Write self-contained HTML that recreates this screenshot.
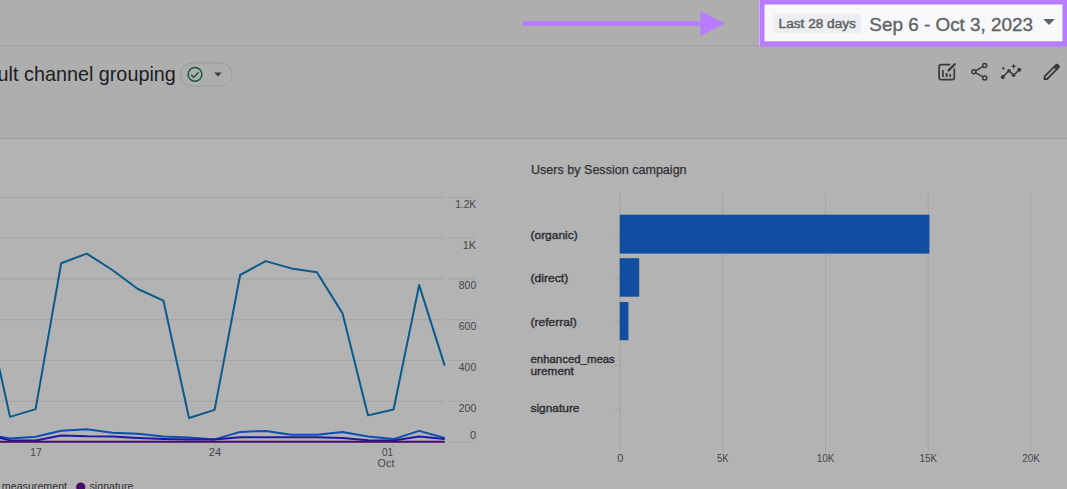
<!DOCTYPE html>
<html><head><meta charset="utf-8">
<style>
*{margin:0;padding:0;box-sizing:border-box}
html,body{width:1067px;height:489px;overflow:hidden;background:#aeaeaf;font-family:"Liberation Sans",sans-serif}
#card{position:absolute;left:0;top:139px;width:1067px;height:350px;background:#b3b3b3}
.hl{position:absolute;left:0;width:1067px;height:1px;background:#9c9d9f}
svg{position:absolute;left:0;top:0}
text{font-family:"Liberation Sans",sans-serif}
</style></head><body>
<div class="hl" style="top:45px"></div>
<div class="hl" style="top:138px"></div>
<div id="card"></div>

<svg width="1067" height="489" viewBox="0 0 1067 489">
  <!-- arrow -->
  <rect x="523" y="21" width="180" height="5" fill="#b77cff"/>
  <polygon points="700.5,11 725,23.5 700.5,36" fill="#b77cff"/>

  <!-- date box -->
  <rect x="759" y="0" width="308" height="46.5" fill="#b77cff"/>
  <rect x="764.5" y="4.5" width="298" height="36.8" fill="#f7f8f9"/>
  <rect x="759" y="0" width="0.7" height="46" fill="#d9c2ff"/>
  <rect x="773.6" y="13.7" width="87.5" height="19.7" rx="2" fill="#eceef0"/>
  <text x="778.6" y="27.8" font-size="12.85" fill="#5c5f63" stroke="#5c5f63" stroke-width="0.45" textLength="77.3" lengthAdjust="spacingAndGlyphs">Last 28 days</text>
  <text x="869.3" y="30.5" font-size="18.9" fill="#5f6266" stroke="#5f6266" stroke-width="0.35">Sep 6 - Oct 3, 2023</text>
  <polygon points="1043.2,19 1054.8,19 1049,25" fill="#5f6266"/>

  <!-- title -->
  <text x="-2.4" y="80.5" font-size="19.8" fill="#1c1d1f">ult channel grouping</text>
  <rect x="180.3" y="63" width="51.8" height="23" rx="11.5" fill="none" stroke="#9a9c9e" stroke-width="1"/>
  <circle cx="195" cy="74.3" r="6.9" fill="none" stroke="#135a37" stroke-width="1.5"/>
  <polyline points="191.2,74.9 193.7,77.3 198.6,72.3" fill="none" stroke="#135a37" stroke-width="1.5"/>
  <polygon points="214.2,72.6 221.7,72.6 217.95,76.6" fill="#3a3a3c"/>

  <!-- top-right icons -->
  <g fill="none" stroke="#38393b">
  <path d="M950.2,64.6 H941.2 Q939.1,64.6 939.1,66.7 V77.6 Q939.1,79.7 941.2,79.7 H952.2 Q954.3,79.7 954.3,77.6 V68.6" stroke-width="1.7"/>
  <line x1="948.6" y1="70.4" x2="954.8" y2="64.3" stroke-width="2.3" stroke-linecap="round"/>
  <rect x="942.1" y="70" width="1.7" height="7" fill="#38393b" stroke="none"/>
  <rect x="945.7" y="73" width="1.8" height="4" fill="#38393b" stroke="none"/>
  <rect x="949.3" y="74" width="1.7" height="3" fill="#38393b" stroke="none"/>

  <circle cx="984.7" cy="65.4" r="2" stroke-width="1.5"/>
  <circle cx="973.9" cy="71.8" r="2" stroke-width="1.5"/>
  <circle cx="984.7" cy="77.9" r="2" stroke-width="1.5"/>
  <line x1="975.6" y1="70.8" x2="983" y2="66.4" stroke-width="1.5"/>
  <line x1="975.6" y1="72.8" x2="983" y2="76.9" stroke-width="1.5"/>

  <polyline points="1002.8,77.1 1009,70.7 1013.6,75.3 1019.2,69.8" stroke-width="1.5"/>
  </g>
  <g fill="#38393b">
  <circle cx="1002.8" cy="77.1" r="2.1"/>
  <circle cx="1009" cy="70.7" r="1.8"/>
  <circle cx="1013.6" cy="75.3" r="1.8"/>
  <circle cx="1019.2" cy="69.8" r="2"/>
  <path d="M1003.4,66.6 L1004,67.8 L1005.2,68.4 L1004,69 L1003.4,70.2 L1002.8,69 L1001.6,68.4 L1002.8,67.8Z"/>
  <path d="M1013.7,63.4 L1014.5,65.5 L1016.6,66.3 L1014.5,67.1 L1013.7,69.2 L1012.9,67.1 L1010.8,66.3 L1012.9,65.5Z"/>
  </g>
  <g transform="translate(1041.0,82.6) scale(0.0225)" fill="#38393b">
   <path d="M200-200h57l391-391-57-57-391 391v57Zm-80 80v-170l528-527q12-11 26.5-17t30.5-6q16 0 31 6t26 18l55 56q12 11 17.5 26t5.5 30q0 16-5.5 30.5T817-647L290-120H120Z"/>
  </g>

  <!-- line chart grid -->
  <g stroke="#a4a4a4" stroke-width="1">
    <line x1="0" y1="197.3" x2="444.6" y2="197.3"/>
    <line x1="0" y1="238.1" x2="444.6" y2="238.1"/>
    <line x1="0" y1="278.9" x2="444.6" y2="278.9"/>
    <line x1="0" y1="319.7" x2="444.6" y2="319.7"/>
    <line x1="0" y1="360.5" x2="444.6" y2="360.5"/>
    <line x1="0" y1="401.3" x2="444.6" y2="401.3"/>
    <line x1="448" y1="197.3" x2="475" y2="197.3"/>
    <line x1="448" y1="238.1" x2="475" y2="238.1"/>
    <line x1="448" y1="278.9" x2="475" y2="278.9"/>
    <line x1="448" y1="319.7" x2="475" y2="319.7"/>
    <line x1="448" y1="360.5" x2="475" y2="360.5"/>
    <line x1="448" y1="401.3" x2="475" y2="401.3"/>
    <line x1="448" y1="442.1" x2="475" y2="442.1"/>
  </g>
  <g fill="none" stroke-width="2" stroke-linejoin="round">
  <polyline stroke="#0a5a8c" points="-15.54,301 10.03,416.9 35.6,409.1 61.17,263.3 86.74,253.6 112.31,270 137.88,289 163.45,300.7 189.02,418 214.59,409.9 240.16,275 265.73,261.1 291.3,268.4 316.87,272.3 342.44,313.1 368.01,415.4 393.58,409.5 419.15,285.1 444.72,365.6"/>
  <polyline stroke="#0d50ae" points="-15.54,434 10.03,438.4 35.6,436.7 61.17,430.7 86.74,429.2 112.31,432.7 137.88,433.8 163.45,436.6 189.02,437.4 214.59,439.4 240.16,431.9 265.73,430.9 291.3,434.7 316.87,434.7 342.44,431.9 368.01,436.6 393.58,439.1 419.15,430.9 444.72,438"/>
  <polyline stroke="#2218a6" points="-15.54,434 10.03,440.4 35.6,440.4 61.17,435.5 86.74,436.3 112.31,436.5 137.88,438 163.45,439 189.02,439.5 214.59,439.5 240.16,437.3 265.73,437.3 291.3,437.3 316.87,437.3 342.44,438 368.01,440.3 393.58,440.5 419.15,436.6 444.72,438.9"/>
  <line x1="0" y1="441.8" x2="444.72" y2="441.8" stroke="#4a0a6a"/>
  </g>
  <g stroke="#a3a3a3" stroke-width="1">
    <line x1="35.6" y1="443" x2="35.6" y2="447"/>
    <line x1="214.6" y1="443" x2="214.6" y2="447"/>
    <line x1="393.6" y1="443" x2="393.6" y2="447"/>
  </g>
  <g font-size="11" fill="#45464a" text-anchor="end">
    <text x="476.2" y="207.8" textLength="21" lengthAdjust="spacingAndGlyphs">1.2K</text>
    <text x="476.2" y="248.6">1K</text>
    <text x="476.2" y="289.4" textLength="17.4" lengthAdjust="spacingAndGlyphs">800</text>
    <text x="476.2" y="330.2" textLength="17.4" lengthAdjust="spacingAndGlyphs">600</text>
    <text x="476.2" y="371" textLength="17.4" lengthAdjust="spacingAndGlyphs">400</text>
    <text x="476.2" y="411.8" textLength="17.4" lengthAdjust="spacingAndGlyphs">200</text>
    <text x="476.2" y="438.8">0</text>
  </g>
  <g font-size="11" fill="#45464a">
    <text x="30.3" y="456.1" textLength="11.6" lengthAdjust="spacingAndGlyphs">17</text>
    <text x="208.8" y="456.1" textLength="12.3" lengthAdjust="spacingAndGlyphs">24</text>
    <text x="381.9" y="455.9" textLength="11" lengthAdjust="spacingAndGlyphs">01</text>
    <text x="377.6" y="466.8" textLength="16.8" lengthAdjust="spacingAndGlyphs">Oct</text>
  </g>
  <!-- legend -->
  <g font-size="11" fill="#2f3033">
    <text x="1.8" y="490" textLength="65.3" lengthAdjust="spacingAndGlyphs">measurement</text>
    <text x="89.5" y="490" textLength="43.9" lengthAdjust="spacingAndGlyphs">signature</text>
  </g>
  <circle cx="80.7" cy="487.1" r="4.6" fill="#4a0a6a"/>

  <!-- bar chart -->
  <text x="531" y="174.1" font-size="12.9" fill="#2f3033" stroke="#2f3033" stroke-width="0.25" textLength="155.6" lengthAdjust="spacingAndGlyphs">Users by Session campaign</text>
  <g stroke="#a4a4a4" stroke-width="1">
    <line x1="620.2" y1="193" x2="620.2" y2="450.4"/>
    <line x1="722.8" y1="193" x2="722.8" y2="450.4"/>
    <line x1="825.5" y1="193" x2="825.5" y2="450.4"/>
    <line x1="928.2" y1="193" x2="928.2" y2="450.4"/>
    <line x1="1030.9" y1="193" x2="1030.9" y2="450.4"/>
    <line x1="614" y1="234.6" x2="620" y2="234.6"/>
    <line x1="614" y1="278.2" x2="620" y2="278.2"/>
    <line x1="614" y1="321.8" x2="620" y2="321.8"/>
    <line x1="614" y1="365.4" x2="620" y2="365.4"/>
    <line x1="614" y1="409" x2="620" y2="409"/>
  </g>
  <g fill="#0f4ea1">
    <rect x="619.7" y="214.7" width="309.7" height="38.9"/>
    <rect x="619.7" y="258.2" width="19.5" height="38.5"/>
    <rect x="619.7" y="302" width="8.7" height="38.2"/>
  </g>
  <g font-size="11" fill="#2f3033" stroke="#2f3033" stroke-width="0.4">
    <text x="530.5" y="239" textLength="47.2" lengthAdjust="spacingAndGlyphs">(organic)</text>
    <text x="530.5" y="282.4" textLength="37.8" lengthAdjust="spacingAndGlyphs">(direct)</text>
    <text x="530.5" y="325.8" textLength="46.2" lengthAdjust="spacingAndGlyphs">(referral)</text>
    <text x="530.5" y="362.8" textLength="84.3" lengthAdjust="spacingAndGlyphs">enhanced_meas</text>
    <text x="530.5" y="374.7" textLength="43.4" lengthAdjust="spacingAndGlyphs">urement</text>
    <text x="530.5" y="411.8" textLength="49" lengthAdjust="spacingAndGlyphs">signature</text>
  </g>
  <g font-size="11" fill="#45464a" text-anchor="middle">
    <text x="620.2" y="461.6">0</text>
    <text x="722.9" y="461.6" textLength="11.6" lengthAdjust="spacingAndGlyphs">5K</text>
    <text x="825.6" y="461.6" textLength="17.6" lengthAdjust="spacingAndGlyphs">10K</text>
    <text x="928.3" y="461.6" textLength="17.6" lengthAdjust="spacingAndGlyphs">15K</text>
    <text x="1031" y="461.6" textLength="17.6" lengthAdjust="spacingAndGlyphs">20K</text>
  </g>
</svg>
</body></html>
